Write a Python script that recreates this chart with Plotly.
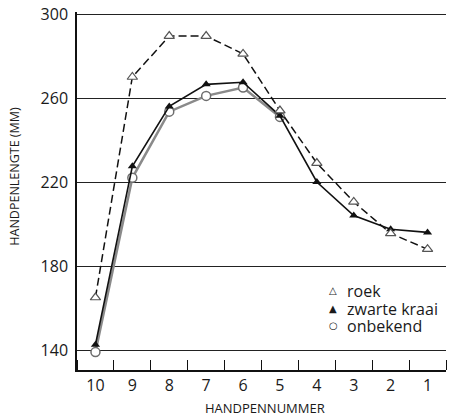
import plotly.graph_objects as go

handpen = [10, 9, 8, 7, 6, 5, 4, 3, 2, 1]
roek = [165, 270, 289.5, 289.5, 281, 254, 229, 210.5, 195.5, 188]
zwarte_kraai = [142.5, 227.5, 256, 266.5, 267.5, 251.5, 220, 204, 197.5, 196]
onbekend_x = [10, 9, 8, 7, 6, 5]
onbekend = [139, 222, 253.5, 261, 265, 251]
y_ticks = [140, 180, 220, 260, 300]
legend_names = ["roek", "zwarte kraai", "onbekend"]
legend_symbols = ["△", "▲", "○"]

FONT = "Open Sans"
TXT = "#1a1a1a"

fig = go.Figure()

fig.add_trace(go.Scatter(
    x=onbekend_x, y=onbekend, mode="lines+markers", showlegend=False,
    line=dict(color="#8a8a8a", width=2.5),
    marker=dict(symbol="circle", size=9, color="white", line=dict(color="#6e6e6e", width=1.5)),
))
fig.add_trace(go.Scatter(
    x=handpen, y=zwarte_kraai, mode="lines+markers", showlegend=False,
    line=dict(color="#111111", width=1.6),
    marker=dict(symbol="triangle-up", size=8, color="#111111"),
))
fig.add_trace(go.Scatter(
    x=handpen, y=roek, mode="lines+markers", showlegend=False,
    line=dict(color="#111111", width=1.5, dash="8px,4px"),
    marker=dict(symbol="triangle-up", size=9, color="white", line=dict(color="#555555", width=1.2)),
))

annotations = []
rows_y = [0.222, 0.171, 0.124]
for name, sym, yy in zip(legend_names, legend_symbols, rows_y):
    annotations.append(dict(xref="paper", yref="paper", x=0.694, y=yy, text=sym,
                            showarrow=False, xanchor="center", yanchor="middle",
                            font=dict(size=10, family="DejaVu Sans", color=TXT)))
    annotations.append(dict(xref="paper", yref="paper", x=0.727, y=yy, text=name,
                            showarrow=False, xanchor="left", yanchor="middle",
                            font=dict(size=16, family=FONT, color=TXT)))
annotations.append(dict(xref="paper", yref="paper", x=0.509, y=-0.107, text="HANDPENNUMMER",
                        showarrow=False, xanchor="center", yanchor="middle",
                        font=dict(size=13, family=FONT, color=TXT)))
annotations.append(dict(xref="paper", yref="paper", x=-0.168, y=0.54, text="HANDPENLENGTE (MM)",
                        showarrow=False, xanchor="center", yanchor="middle", textangle=-90,
                        font=dict(size=12.5, family=FONT, color=TXT)))

fig.update_layout(
    width=449, height=417,
    margin=dict(l=77, r=3, t=12, b=47, autoexpand=False),
    paper_bgcolor="white", plot_bgcolor="white",
    font=dict(family=FONT, color=TXT),
    showlegend=False,
    annotations=annotations,
    xaxis=dict(
        range=[10.5, 0.5], tickvals=handpen, ticktext=[str(v) for v in handpen],
        ticks="", showgrid=False, zeroline=False,
        showline=True, linecolor="#111111", linewidth=1.5,
        tickfont=dict(size=16, family=FONT, color=TXT),
        ticklabeloverflow="allow",
        minor=dict(tickvals=[v + 0.5 for v in range(0, 11)], ticks="inside",
                   ticklen=10, tickcolor="#111111", tickwidth=1.2, showgrid=False),
    ),
    yaxis=dict(
        range=[130.48, 300.95], tickmode="array", tickvals=y_ticks,
        ticks="outside", ticklen=4, tickcolor="rgba(0,0,0,0)",
        ticklabeloverflow="allow",
        showgrid=True, gridcolor="#222222", gridwidth=1.1, zeroline=False,
        showline=True, linecolor="#111111", linewidth=1.5,
        tickfont=dict(size=16, family=FONT, color=TXT),
    ),
)

fig.write_html("out.html", config={"displayModeBar": False},
               post_script="document.body.style.margin='0px';")
